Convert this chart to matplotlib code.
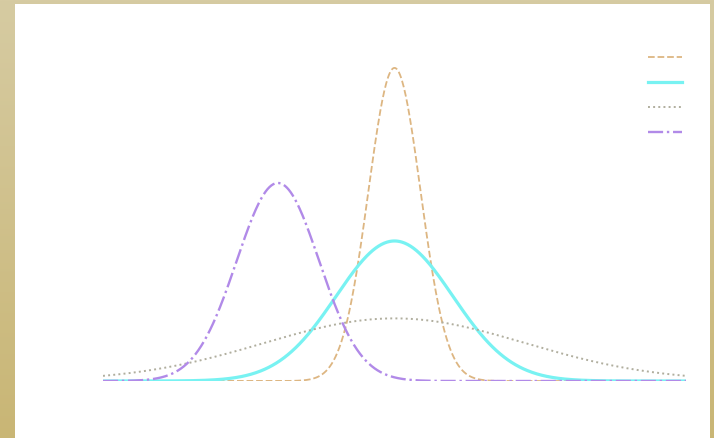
import numpy as np
import matplotlib
matplotlib.use('Agg')
import matplotlib.pyplot as plt
from matplotlib.patches import Rectangle

# parametros de las distribuciones normales
mus = [0, 0, 0, -2]
varianzas = [0.2, 1.0, 5.0, 0.5]
colores = ['#ddb682', '#78f2f2', '#b0ae9e', '#b18ae8']
estilos = ['--', '-', ':', '-.']
grosores = [1.3, 2.3, 1.4, 1.7]
etiquetas = [' ', ' ', ' ', ' ']

x = np.linspace(-5, 5, 600)

fig = plt.figure(figsize=(7.14, 4.38), dpi=100)

# fondo dorado con degradado y panel blanco
bg = fig.add_axes([0, 0, 1, 1], zorder=0)
grad = np.linspace(0, 1, 256).reshape(-1, 1)
c_arriba = np.array([0xd6, 0xcb, 0xa2]) / 255
c_abajo = np.array([0xc9, 0xb6, 0x75]) / 255
img = c_arriba + grad[..., None] * (c_abajo - c_arriba)
bg.imshow(img, aspect='auto', extent=[0, 1, 0, 1])
bg.add_patch(Rectangle((15 / 714, 0), (710 - 15) / 714, (438 - 4) / 438,
                       facecolor='white', edgecolor='none'))
bg.set_xlim(0, 1)
bg.set_ylim(0, 1)
bg.axis('off')

ax = fig.add_axes([103 / 714, 57 / 438, 583 / 714, 351 / 438], zorder=1)
ax.patch.set_alpha(0)

lineas = []
for mu, var, c, ls, lw, lab in zip(mus, varianzas, colores, estilos, grosores, etiquetas):
    y = np.exp(-(x - mu) ** 2 / (2 * var)) / np.sqrt(2 * np.pi * var)
    l, = ax.plot(x, y, color=c, linestyle=ls, linewidth=lw, label=lab)
    lineas.append(l)

ax.set_xlim(-5, 5)
ax.set_ylim(0, 1)
ax.axis('off')

fig.legend(lineas, etiquetas, loc='upper left', bbox_to_anchor=(634 / 714, 1 - 37 / 438),
           frameon=False, fontsize=10, handlelength=2.45, labelspacing=0.78,
           handletextpad=0.2, borderpad=0.5)

fig.savefig('out.png', dpi=100)
